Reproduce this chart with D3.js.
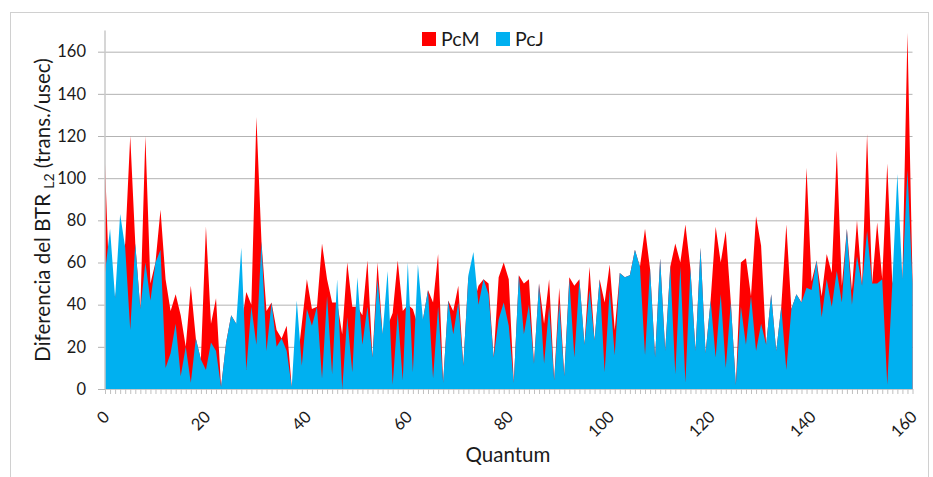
<!DOCTYPE html>
<html>
<head>
<meta charset="utf-8">
<title>BTR L2 PcM vs PcJ</title>
<script src="https://cdn.jsdelivr.net/npm/d3@7"></script>
<style>
  body { margin:0; background:#fff; }
  text { font-family: Lato, "Open Sans", sans-serif; fill:#1a1a1a; }
</style>
</head>
<body>
<script>
// quantum 0..160
var quantum = d3.range(0, 161);

// PcM (red)
var pcm = [107,40,43,60,69,120,69,38,120,50, 60,85,52,37,45,35,20,49,24,14,
           77,31,43,1,22,35,31,30,46,40, 129,70,37,41,28,24,30,1,10,31,
           52,38,39,69,52,41,41,26,60,39, 39,35,61,15,60,26,30,36,61,37,
           40,38,30,33,47,41,64,3,42,37, 49,11,54,40,49,52,50,15,53,60,
           52,3,54,50,52,12,50,31,52,4, 48,6,53,49,52,21,58,23,52,41,
           59,28,55,53,54,66,58,76,57,15, 62,18,58,69,60,78,57,18,67,17,
           42,77,60,75,41,2,60,62,44,82, 68,21,45,18,39,78,38,45,41,105,
           51,61,44,64,55,113,49,76,47,80, 49,121,50,79,52,107,50,60,52,169,
           52];

// PcJ (blue)
var pcj = [55,76,43,83,67,28,69,38,60,42, 60,66,10,17,31,6,20,3,24,14,
           9,22,18,1,22,35,31,67,9,39, 21,70,18,41,20,24,18,1,42,11,
           38,30,39,5,44,7,52,0,34,8, 53,21,39,15,52,26,56,2,36,4,
           60,8,59,33,47,5,39,3,42,26, 41,11,54,65,40,52,45,15,33,41,
           30,3,54,26,40,12,50,12,39,4, 41,6,52,15,52,21,47,23,52,8,
           47,16,55,53,54,66,58,16,57,15, 62,18,58,7,58,3,57,18,67,17,
           42,15,45,10,41,2,39,21,44,18, 31,21,45,18,39,9,38,45,41,48,
           47,61,34,52,39,56,41,76,40,63, 49,75,50,50,52,2,50,102,52,104,
           50];

var yTicks = [0,20,40,60,80,100,120,140,160];
var xTicks = [0,20,40,60,80,100,120,140,160];
var seriesNames = ['PcM','PcJ'];
var colors = ['#ff0000','#00b0f0'];

var width = 933, height = 477;
var svg = d3.select("body").append("svg")
    .attr("width", width)
    .attr("height", height);

// outer chart frame
svg.append("rect")
    .attr("x", 10.5).attr("y", 12.5)
    .attr("width", 918).attr("height", 470)
    .attr("fill", "none")
    .attr("stroke", "#d0d0d0");

var padding = {left:105, right:912.5, top:30.6, bottom:389};

var xLinear = d3.scaleLinear()
    .domain([0, 160])
    .range([padding.left, padding.right]);

var yLinear = d3.scaleLinear()
    .domain([0, 170])
    .range([padding.bottom, padding.top]);

// gridlines + y labels
var yAxis = d3.axisLeft(yLinear)
    .tickValues(yTicks)
    .tickSizeInner(-(padding.right - padding.left + 7))
    .tickSizeOuter(0)
    .tickPadding(12);

var gy = svg.append("g")
    .attr("transform", "translate(" + (padding.left - 7) + ",0)")
    .call(yAxis);
gy.select(".domain").remove();
gy.selectAll("line").attr("stroke", "#b3b3b3").attr("stroke-width", 1);
gy.selectAll("text").attr("font-size", 16.5).style("font-family", "Lato, sans-serif").attr("fill", "#1a1a1a");

// areas, red behind blue
var area = function(vals) {
  return d3.area()
    .x(function(d, i){ return xLinear(quantum[i]); })
    .y0(yLinear(0))
    .y1(function(d){ return yLinear(d); })(vals);
};

svg.append("path")
    .attr("d", area(pcm))
    .attr("fill", colors[0]);

svg.append("path")
    .attr("d", area(pcj))
    .attr("fill", colors[1]);

// y axis line
svg.append("line")
    .attr("x1", padding.left).attr("x2", padding.left)
    .attr("y1", padding.top).attr("y2", padding.bottom)
    .attr("stroke", "#c8c8c8").attr("stroke-width", 1.5);

// x axis, minor tick at every quantum
var xAxis = d3.axisBottom(xLinear)
    .tickValues(quantum)
    .tickSizeInner(5)
    .tickSizeOuter(0)
    .tickFormat(function(d){ return xTicks.indexOf(d) >= 0 ? d : ""; });

var gx = svg.append("g")
    .attr("transform", "translate(0," + padding.bottom + ")")
    .call(xAxis);
gx.select(".domain").attr("stroke", "#c8c8c8");
gx.selectAll("line").attr("stroke", "#c0c0c0");
gx.selectAll("text")
    .attr("font-size", 16.5)
    .style("font-family", "Lato, sans-serif")
    .attr("fill", "#1a1a1a")
    .attr("text-anchor", "end")
    .attr("y", 0).attr("dy", 0)
    .attr("transform", "translate(5,29) rotate(-45)");

// axis titles
svg.append("text")
    .attr("x", 508).attr("y", 462)
    .attr("text-anchor", "middle")
    .attr("font-size", 20.5)
    .text("Quantum");

var yt = svg.append("text")
    .attr("transform", "translate(50,210) rotate(-90)")
    .attr("text-anchor", "middle")
    .attr("font-size", 20.5);
yt.append("tspan").text("Diferencia del BTR ");
yt.append("tspan").attr("font-size", 14).attr("dy", 4).text("L2");
yt.append("tspan").attr("dy", -4).text(" (trans./usec)");

// legend
var lx = [422, 496];
var leg = svg.selectAll(".leg")
    .data(seriesNames)
    .enter().append("g")
    .attr("class", "leg")
    .attr("transform", function(d, i){ return "translate(" + lx[i] + ",32)"; });
leg.append("rect")
    .attr("width", 14).attr("height", 14)
    .attr("fill", function(d, i){ return colors[i]; });
leg.append("text")
    .attr("x", 19).attr("y", 14)
    .attr("font-size", 19.5)
    .text(function(d){ return d; });
</script>
</body>
</html>
